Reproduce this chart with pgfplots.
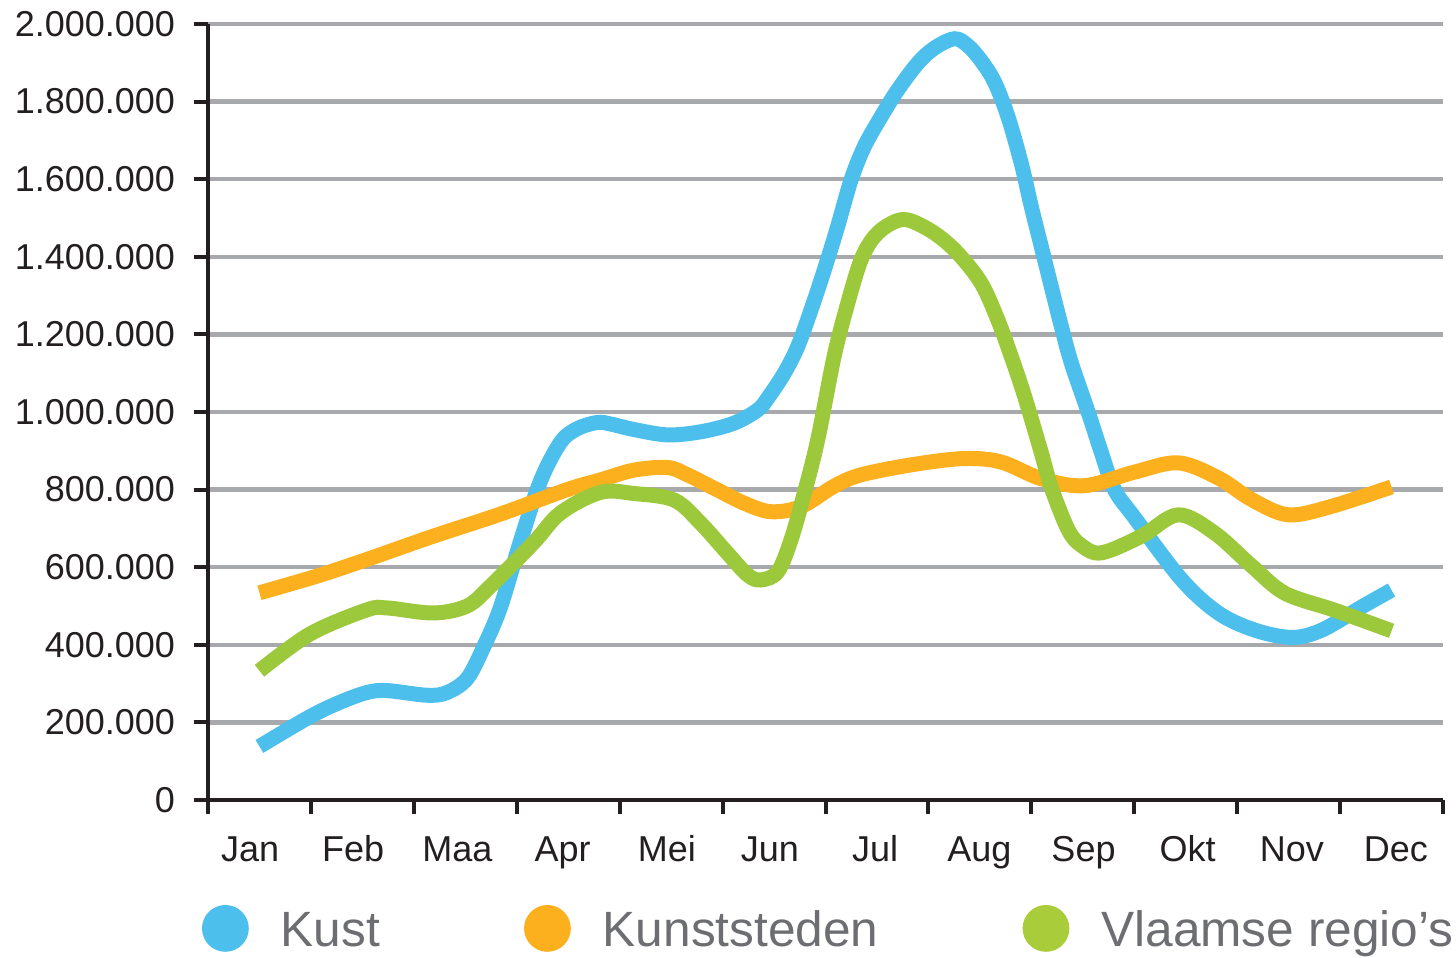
\documentclass[border=0pt]{standalone}
\usepackage{pgfplots}
\pgfplotsset{compat=1.18}
\usepackage{fontspec}
\setmainfont{Liberation Sans}
\definecolor{kust}{HTML}{4DBFEC}
\definecolor{kunst}{HTML}{FDB01D}
\definecolor{vlaam}{HTML}{9CC93B}
\definecolor{vlaamleg}{HTML}{A9CD3A}
\definecolor{gridc}{HTML}{A7A9AC}
\definecolor{axisc}{HTML}{231F20}
\definecolor{legc}{HTML}{6D6E71}
\begin{document}
\begin{tikzpicture}
\path[use as bounding box] (0,0) rectangle (728bp,479bp);
\begin{axis}[
  at={(104bp,79bp)}, anchor=south west,
  scale only axis, width=617.5bp, height=388bp,
  xmin=0.5, xmax=12.5, ymin=0, ymax=2000000,
  axis lines*=left,
  axis line style={-, line width=2bp, color=axisc},
  tick align=outside,
  major tick length=7bp,
  tick style={line width=2bp, color=axisc},
  xtick={0.5,1.5,2.5,3.5,4.5,5.5,6.5,7.5,8.5,9.5,10.5,11.5,12.5},
  xticklabels={},
  extra x ticks={0.909,1.911,2.924,3.946,4.958,5.960,6.982,7.995,9.007,10.019,11.031,12.043},
  extra x tick labels={Jan,Feb,Maa,Apr,Mei,Jun,Jul,Aug,Sep,Okt,Nov,Dec},
  extra x tick style={major tick length=0pt, grid=none},
  xticklabel style={text height=13bp, text depth=4bp, yshift=-14bp},
  ytick={0,200000,400000,600000,800000,1000000,1200000,1400000,1600000,1800000,2000000},
  scaled y ticks=false,
  yticklabel style={/pgf/number format/.cd, fixed, 1000 sep={.}, assume math mode=true, /tikz/.cd, xshift=-6bp},
  tick label style={font=\fontsize{18bp}{20bp}\selectfont, text=axisc},
  ymajorgrids,
  grid style={line width=2.2bp, color=gridc},
  clip=false,
  legend columns=3,
  legend style={draw=none, fill=none, inner sep=0pt, outer sep=0pt,
    at={(rel axis cs:0,0)}, anchor=north west, xshift=-3bp, yshift=-52.5bp,
    font=\fontsize{24.8bp}{28bp}\selectfont, text=legc,
    nodes={inner sep=0pt},
    cells={anchor=base west},
    /tikz/every odd column/.append style={column sep=16bp},
    /tikz/every even column/.append style={column sep=72bp}},
]
\addplot[kust, line width=7.5bp, smooth, tension=0.55,
  legend image code/.code={\path[fill=kust, draw=none] (11.7bp,8.9bp) circle (11.7bp);}]
coordinates {(1,138000)(1.492,215000)(1.784,252000)(2.044,277000)(2.239,282000)(2.628,270000)(2.823,277000)(3.018,313000)(3.176,393000)(3.342,497000)(3.537,668000)(3.732,823000)(3.926,922000)(4.088,957000)(4.283,973000)(4.412,969000)(4.636,955000)(4.964,941000)(5.288,949000)(5.609,971000)(5.840,1005000)(5.937,1035000)(6.099,1100000)(6.229,1168000)(6.359,1263000)(6.488,1366000)(6.618,1478000)(6.748,1598000)(6.877,1684000)(7.040,1761000)(7.202,1830000)(7.397,1899000)(7.559,1938000)(7.753,1962000)(7.884,1944000)(8.013,1905000)(8.143,1850000)(8.273,1761000)(8.402,1641000)(8.500,1529000)(8.597,1426000)(8.694,1323000)(8.792,1220000)(8.889,1126000)(9.052,1000000)(9.181,895000)(9.308,800000)(9.502,728000)(9.960,568000)(10.317,482000)(10.670,438000)(11.031,419000)(11.323,438000)(11.712,498000)(12,541000)};
\addlegendentry{Kust}
\addplot[kunst, line width=7.5bp, smooth, tension=0.55,
  legend image code/.code={\path[fill=kunst, draw=none] (11.7bp,8.9bp) circle (11.7bp);}]
coordinates {(1,534000)(1.558,577000)(2.044,620000)(2.690,680000)(3.342,737000)(3.991,800000)(4.315,825000)(4.636,850000)(4.964,857000)(5.159,838000)(5.451,799000)(5.709,765000)(5.969,743000)(6.261,756000)(6.585,809000)(6.845,838000)(7.361,865000)(7.848,880000)(8.208,871000)(8.597,828000)(9.015,810000)(9.502,845000)(9.927,869000)(10.317,830000)(10.642,774000)(10.998,735000)(11.420,757000)(12,807000)};
\addlegendentry{Kunststeden}
\addplot[vlaam, line width=7.5bp, smooth, tension=0.55,
  legend image code/.code={\path[fill=vlaamleg, draw=none] (11.7bp,8.9bp) circle (11.7bp);}]
coordinates {(1,333000)(1.492,428000)(2.044,490000)(2.239,495000)(2.690,482000)(3.018,500000)(3.244,551000)(3.663,663000)(3.926,740000)(4.315,793000)(4.636,790000)(5.030,773000)(5.288,713000)(5.548,636000)(5.743,580000)(5.872,567000)(6.035,588000)(6.164,670000)(6.293,790000)(6.424,928000)(6.585,1145000)(6.716,1280000)(6.845,1392000)(6.975,1452000)(7.137,1486000)(7.300,1495000)(7.559,1461000)(7.786,1409000)(8.013,1332000)(8.175,1237000)(8.305,1143000)(8.435,1040000)(8.597,895000)(8.694,805000)(8.857,697000)(8.986,656000)(9.181,637000)(9.570,680000)(9.927,735000)(10.281,688000)(10.642,603000)(10.963,533000)(11.449,489000)(12,436000)};
\addlegendentry{Vlaamse regio’s}
\end{axis}
\end{tikzpicture}
\end{document}
